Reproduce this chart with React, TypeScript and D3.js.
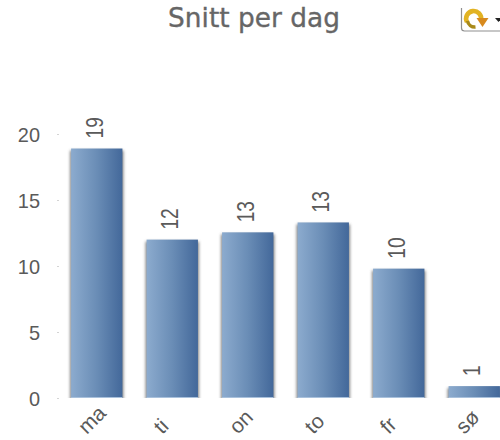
import React from "react";
import * as d3 from "d3";

const days = ["ma", "ti", "on", "to", "fr", "sø"];
const averages = [18.9, 12, 12.55, 13.3, 9.8, 0.9];
const yTicks = [0, 5, 10, 15, 20];

const width = 500;
const height = 440;
const plot = { left: 59, right: 512, top: 134, bottom: 398 };

const x = d3.scaleBand<string>().domain(days).range([plot.left, plot.right]).paddingInner(0.32).paddingOuter(0.16);
const y = d3.scaleLinear().domain([0, 20]).range([plot.bottom, plot.top]);
const label = d3.format(".0f");

const sans = "'Liberation Sans', Arial, sans-serif";
const textColor = "#5a5a5a";

export default function App() {
  return (
    <svg width={width} height={height} style={{ position: "absolute", left: 0, top: 0, background: "#fff" }}>
      <defs>
        <linearGradient id="barFill" x1="0" x2="1" y1="0" y2="0">
          <stop offset="0" stopColor="#8cabce" />
          <stop offset="0.5" stopColor="#6a8db6" />
          <stop offset="1" stopColor="#43689a" />
        </linearGradient>
        <filter id="barShadow" x="-20%" y="-10%" width="140%" height="120%">
          <feGaussianBlur stdDeviation="1.5" />
        </filter>
        <clipPath id="aboveBaseline">
          <rect x={0} y={0} width={width} height={plot.bottom} />
        </clipPath>
      </defs>

      <text
        x={254}
        y={27}
        textAnchor="middle"
        fontFamily="'DejaVu Sans', Verdana, sans-serif"
        fontSize={26.4}
        fill="#666"
        stroke="#666"
        strokeWidth={0.35}
      >
        Snitt per dag
      </text>

      {/* Reload button in the top corner */}
      <g>
        <path d="M461.5 8 V28 q0 3 3 3 H500" fill="none" stroke="#8f8f8f" strokeWidth={1.2} />
        <path d="M467 22 a7.5 7.5 0 1 1 14 -2" fill="none" stroke="#e2b323" strokeWidth={4.6} />
        <path d="M467.5 21 a7.5 7.5 0 0 0 8 6" fill="none" stroke="#a98a1a" strokeWidth={3.6} />
        <path d="M476.5 18 h12 l-6 9 z" fill="#d88a1e" />
        <path d="M495 18 h7 l-3.5 4 z" fill="#222" />
      </g>

      {yTicks.map((t) => (
        <g key={t}>
          <text
            transform={`translate(40,${y(t) + 8}) scale(0.95,1)`}
            textAnchor="end"
            fontFamily={sans}
            fontSize={21}
            fill={textColor}
          >
            {t}
          </text>
          <rect x={57} y={y(t)} width={2} height={1} fill="#d4d4d4" />
        </g>
      ))}

      {days.map((d, i) => {
        const bx = x(d)!;
        const top = y(averages[i]);
        const bw = x.bandwidth();
        const h = plot.bottom - top;
        const cx = bx + bw / 2;
        return (
          <g key={d}>
            <g clipPath="url(#aboveBaseline)">
              <rect x={bx - 1} y={top + 2} width={bw + 2} height={h} fill="#555" opacity={0.75} filter="url(#barShadow)" />
            </g>
            <rect x={bx} y={top} width={bw} height={h} fill="url(#barFill)" />
            <rect x={bx} y={plot.bottom - 1} width={bw} height={1} fill="#a9c1dc" />
            <text
              transform={`translate(${cx + 6},${top - 10}) rotate(-90) scale(0.8,1)`}
              fontFamily={sans}
              fontSize={24}
              fill={textColor}
            >
              {label(averages[i])}
            </text>
            <text
              transform={`translate(${cx - 10},${plot.bottom + 37}) rotate(-45)`}
              fontFamily={sans}
              fontSize={21}
              fill={textColor}
            >
              {d}
            </text>
          </g>
        );
      })}
    </svg>
  );
}
